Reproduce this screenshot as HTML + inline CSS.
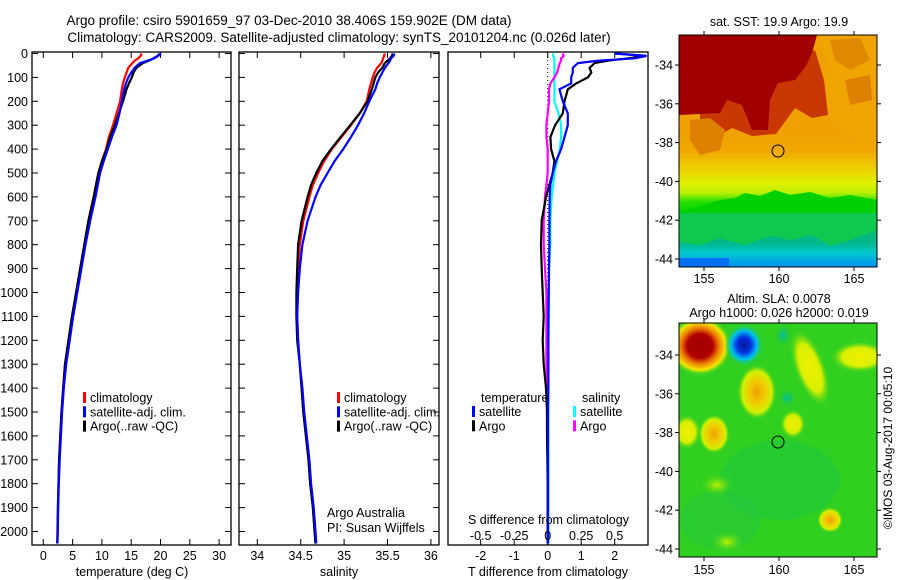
<!DOCTYPE html>
<html><head><meta charset="utf-8"><style>
html,body{margin:0;padding:0;background:#fff;}
svg{display:block;font-family:"Liberation Sans",sans-serif;}
text{fill:#000;}
</style></head><body>
<svg id="chart" width="900" height="580" viewBox="0 0 900 580" xmlns="http://www.w3.org/2000/svg">
<defs>
<linearGradient id="sstg" x1="0" y1="35" x2="0" y2="267" gradientUnits="userSpaceOnUse">
<stop offset="0.40" stop-color="#f0a000"/><stop offset="0.50" stop-color="#f0a800"/>
<stop offset="0.56" stop-color="#f0c800"/><stop offset="0.64" stop-color="#e0f000"/>
<stop offset="0.68" stop-color="#b8f000"/><stop offset="0.72" stop-color="#20e000"/>
<stop offset="0.78" stop-color="#00d000"/><stop offset="0.84" stop-color="#00b870"/>
<stop offset="0.90" stop-color="#00b890"/><stop offset="0.94" stop-color="#00c8d0"/>
<stop offset="1" stop-color="#0090f0"/></linearGradient>
<radialGradient id="gRed"><stop offset="0" stop-color="#a00000"/><stop offset="0.4" stop-color="#b00000"/><stop offset="0.6" stop-color="#f08000"/><stop offset="0.8" stop-color="#f0e800"/><stop offset="1" stop-color="#30d020" stop-opacity="0"/></radialGradient>
<radialGradient id="gBlue"><stop offset="0" stop-color="#001890"/><stop offset="0.35" stop-color="#0030e0"/><stop offset="0.65" stop-color="#00c0f0"/><stop offset="1" stop-color="#30d020" stop-opacity="0"/></radialGradient>
<radialGradient id="gOr"><stop offset="0" stop-color="#f0a000"/><stop offset="0.45" stop-color="#f0d000"/><stop offset="0.75" stop-color="#d0f000"/><stop offset="1" stop-color="#30d020" stop-opacity="0"/></radialGradient>
<radialGradient id="gYel"><stop offset="0" stop-color="#f0f000"/><stop offset="0.6" stop-color="#d8f000"/><stop offset="1" stop-color="#30d020" stop-opacity="0"/></radialGradient>
<radialGradient id="gYG"><stop offset="0" stop-color="#c0f000"/><stop offset="1" stop-color="#30d020" stop-opacity="0"/></radialGradient>
<radialGradient id="gTeal"><stop offset="0" stop-color="#00c0a0"/><stop offset="1" stop-color="#20c040" stop-opacity="0"/></radialGradient>
<clipPath id="clipM1"><rect x="679" y="35" width="198" height="232"/></clipPath>
<clipPath id="clipM2"><rect x="679" y="323" width="198" height="234"/></clipPath>
<clipPath id="clipP1"><rect x="32" y="52" width="199" height="493"/></clipPath>
<clipPath id="clipP2"><rect x="239" y="52" width="200" height="493"/></clipPath>
<clipPath id="clipP3"><rect x="448" y="52" width="200" height="493"/></clipPath>
</defs>

<text x="289" y="25" font-size="13.5" text-anchor="middle">Argo profile: csiro 5901659_97 03-Dec-2010 38.406S 159.902E (DM data)</text>
<text x="339" y="42" font-size="13.5" text-anchor="middle">Climatology: CARS2009. Satellite-adjusted climatology: synTS_20101204.nc (0.026d later)</text>

<g id="p1"></g>
<g id="p2"></g>
<g id="p3"></g>

<!-- SST map -->
<g clip-path="url(#clipM1)">
<rect x="679" y="35" width="198" height="232" fill="url(#sstg)"/>
<polygon fill="#f0a400" points="817,35 877,35 877,140 840,135 825,110 828,70"/>
<polygon fill="#e08800" points="830,40 860,38 870,60 850,70 835,60"/>
<polygon fill="#e08000" points="845,80 870,75 872,100 850,105"/>
<polygon fill="#c83800" points="700,110 720,95 745,80 770,65 800,58 815,50 824,80 828,115 812,118 795,108 776,134 752,136 732,128 715,138 700,140"/>
<polygon fill="#e08000" points="690,120 710,118 725,130 720,150 700,155 690,140"/>
<polygon fill="#a00000" points="679,35 817,35 812,53 806,66 795,80 778,83 770,100 768,130 752,130 742,105 727,100 720,113 679,115"/>
<polygon fill="#00d000" points="679,212 700,206 720,200 735,198 745,193 760,196 775,190 790,195 810,192 830,198 850,195 877,200 877,215 679,215"/>
<polygon fill="#10c850" points="679,213 877,213 877,230 850,240 830,246 812,235 790,240 770,236 745,245 720,238 700,245 679,242"/>
<rect x="679" y="258" width="50" height="9" fill="#0070f0"/>
<circle cx="778" cy="151" r="6" fill="none" stroke="#000" stroke-width="1"/>
</g>
<rect x="679" y="35" width="198" height="232" fill="none" stroke="#000" stroke-width="1"/>
<text x="779" y="26" font-size="12.5" text-anchor="middle">sat. SST: 19.9  Argo: 19.9</text>

<!-- SLA map -->
<g clip-path="url(#clipM2)">
<rect x="679" y="323" width="198" height="234" fill="#30d020"/>
<ellipse cx="780" cy="480" rx="60" ry="40" fill="#20c840" opacity="0.6"/>
<ellipse cx="720" cy="520" rx="40" ry="30" fill="#20c840" opacity="0.5"/>
<ellipse cx="700" cy="346" rx="32" ry="30" fill="url(#gRed)"/>
<ellipse cx="744" cy="345" rx="20" ry="22" fill="url(#gBlue)"/>
<ellipse cx="757" cy="392" rx="20" ry="28" fill="url(#gOr)"/>
<ellipse cx="810" cy="368" rx="16" ry="42" transform="rotate(-20 810 368)" fill="url(#gYel)"/>
<ellipse cx="860" cy="357" rx="30" ry="16" fill="url(#gYel)"/>
<ellipse cx="687" cy="432" rx="14" ry="18" fill="url(#gYel)"/>
<ellipse cx="714" cy="434" rx="16" ry="20" fill="url(#gOr)"/>
<ellipse cx="793" cy="424" rx="13" ry="15" fill="url(#gYel)"/>
<ellipse cx="830" cy="520" rx="13" ry="13" fill="url(#gOr)"/>
<ellipse cx="717" cy="485" rx="18" ry="12" fill="url(#gYG)"/>
<ellipse cx="727" cy="542" rx="18" ry="12" fill="url(#gYG)"/>
<ellipse cx="787" cy="398" rx="9" ry="9" fill="url(#gTeal)"/>
<ellipse cx="783" cy="335" rx="8" ry="12" fill="url(#gTeal)"/>
<circle cx="778" cy="442" r="6" fill="none" stroke="#000" stroke-width="1"/>
</g>
<rect x="679" y="323" width="198" height="234" fill="none" stroke="#000" stroke-width="1"/>
<text x="779" y="303" font-size="12.5" text-anchor="middle">Altim. SLA: 0.0078</text>
<text x="779" y="317" font-size="12.5" text-anchor="middle">Argo h1000: 0.026  h2000: 0.019</text>
<text transform="translate(892,448) rotate(-90)" font-size="12" text-anchor="middle">©IMOS 03-Aug-2017 00:05:10</text>
<g id="maptk"></g>

<script>
const depths=[0,10,20,30,40,60,80,100,125,150,200,250,300,350,400,450,500,550,600,700,800,900,1000,1100,1200,1300,1400,1500,1600,1700,1800,1900,2000,2050];
const tArgo=[19.9,19.5,18.8,18.0,17.0,15.9,15.4,15.1,14.6,14.2,13.6,12.9,12.2,11.4,10.8,10.0,9.4,9.0,8.6,7.7,7.0,6.3,5.6,4.9,4.3,3.7,3.4,3.1,2.9,2.7,2.6,2.5,2.45,2.4];
const tClim=[16.8,16.6,16.2,15.6,15.2,14.5,14.2,13.9,13.6,13.4,13.1,12.5,11.9,11.2,10.7,10.0,9.4,9.0,8.6,7.7,7.0,6.3,5.6,4.9,4.3,3.7,3.4,3.1,2.9,2.7,2.6,2.5,2.4,2.35];
const tSat=[20.1,19.6,19.0,17.8,16.5,15.6,15.0,14.5,14.1,13.8,13.4,13.0,12.5,11.7,11.0,10.3,9.7,9.3,8.9,8.0,7.2,6.5,5.8,5.1,4.5,3.9,3.5,3.2,3.0,2.8,2.65,2.55,2.45,2.4];
const sArgo=[35.56,35.55,35.53,35.50,35.47,35.44,35.39,35.36,35.34,35.32,35.27,35.18,35.07,34.96,34.85,34.75,34.68,34.62,34.58,34.51,34.47,34.46,34.45,34.45,34.46,34.49,34.51,34.53,34.56,34.59,34.61,34.64,34.66,34.67];
const sClim=[35.47,35.46,35.45,35.44,35.43,35.38,35.35,35.33,35.31,35.29,35.26,35.18,35.08,34.97,34.86,34.77,34.70,34.64,34.60,34.53,34.49,34.47,34.46,34.46,34.47,34.49,34.51,34.53,34.56,34.59,34.61,34.64,34.66,34.67];
const sSat=[35.58,35.57,35.54,35.53,35.51,35.47,35.44,35.41,35.38,35.36,35.29,35.23,35.16,35.08,34.99,34.89,34.81,34.73,34.67,34.58,34.52,34.49,34.47,34.46,34.47,34.49,34.52,34.54,34.57,34.60,34.62,34.65,34.67,34.68];
const dTSat=[2.0,2.95,2.6,1.5,0.9,0.75,0.75,0.7,0.7,0.35,0.45,0.6,0.6,0.5,0.4,0.25,0.15,0.08,0.06,0.05,0.05,0.04,0.03,0.02,0.02,0.02,0.02,0.01,0.01,0.01,0.01,0.01,0.01,0.01];
const dTArgo=[2.0,2.95,2.4,1.8,1.4,1.25,1.3,1.2,0.85,0.6,0.5,0.45,0.22,0.08,0.1,0.2,0.15,0.05,-0.05,-0.18,-0.2,-0.18,-0.15,-0.12,-0.15,-0.12,-0.05,-0.02,-0.02,-0.01,0,0,0,0];
const dSArgo=[0.11,0.12,0.1,0.1,0.09,0.08,0.07,0.05,0.02,0.01,0.01,0,-0.01,-0.01,0,0,0,-0.01,-0.02,-0.03,-0.03,-0.02,-0.01,-0.01,-0.01,-0.01,0,0,0,0,0,0,0,0];
const dSSat=[0.04,0.04,0.05,0.05,0.05,0.05,0.05,0.05,0.05,0.05,0.05,0.08,0.1,0.1,0.09,0.07,0.05,0.04,0.03,0.02,0.02,0.01,0.01,0.01,0.005,0.005,0.005,0.005,0.005,0.005,0.005,0.005,0.005,0.005];
const depthTicks=[0,100,200,300,400,500,600,700,800,900,1000,1100,1200,1300,1400,1500,1600,1700,1800,1900,2000];
const tTicks=[0,5,10,15,20,25,30];
const sTicks=[34,34.5,35,35.5,36];
const dTTicks=[-2,-1,0,1,2];
const dSTicks=[-0.5,-0.25,0,0.25,0.5];
const dSTickLabels=["-0.5","-0.25","0","0.25","0.5"];
const lonTicks=[155,160,165];
const latTicks=[-34,-36,-38,-40,-42,-44];

const NS='http://www.w3.org/2000/svg';
const yD=d=>53.5+0.239*d;
const xT=t=>43.3+5.86*t;
const xS=s=>257.3+86.8*(s-34);
const xDT=v=>547.7+33.5*v;
const xDS=v=>547.7+134*v;
const xLon=l=>779+15*(l-160);
const yLat1=l=>65+19.4*(-34-l);
const yLat2=l=>355+19.4*(-34-l);

function mk(tag,attrs,parent){const e=document.createElementNS(NS,tag);for(const k in attrs)e.setAttribute(k,attrs[k]);parent.appendChild(e);return e;}
function txt(parent,x,y,s,anchor,size){const t=mk('text',{x:x,y:y,'font-size':size||12.5,'text-anchor':anchor||'start'},parent);t.textContent=s;return t;}
function line(parent,xf,vals,color,name,clip){
  const pts=vals.map((v,i)=>xf(v).toFixed(1)+','+yD(depths[i]).toFixed(1)).join(' ');
  const p=mk('polyline',{points:pts,fill:'none',stroke:color,'stroke-width':2.2,'clip-path':'url(#'+clip+')'},parent);
  
  
}
function frame(g,x0,x1,name,yTicksIn){
  const r=mk('rect',{x:x0,y:52,width:x1-x0,height:493,fill:'none',stroke:'#000','stroke-width':1.3},g);
  
  
  if(yTicksIn){depthTicks.forEach(d=>{mk('line',{x1:x0,x2:x0+6,y1:yD(d),y2:yD(d),stroke:'#000'},g);mk('line',{x1:x1-6,x2:x1,y1:yD(d),y2:yD(d),stroke:'#000'},g);});}
}
function legend(g,x,y,items){
  items.forEach((it,i)=>{
    const b=mk('rect',{x:x,y:y+i*14.3-10,width:3,height:11,fill:it[1]},g);
    
    
    const t=txt(g,x+7,y+i*14.3,it[0]);
    
    
  });
}

// Panel 1
const p1=document.getElementById('p1');
frame(p1,32,231,'temperature-plot-frame',true);
depthTicks.forEach(d=>{const t=txt(p1,28,yD(d)+4.5,String(d),'end');});
tTicks.forEach(v=>{mk('line',{x1:xT(v),x2:xT(v),y1:52,y2:58,stroke:'#000'},p1);mk('line',{x1:xT(v),x2:xT(v),y1:539,y2:545,stroke:'#000'},p1);const t=txt(p1,xT(v),560,String(v),'middle');});
line(p1,xT,tClim,'#ff0000','temperature-climatology-line','clipP1');
line(p1,xT,tArgo,'#000000','temperature-argo-line','clipP1');
line(p1,xT,tSat,'#0000ff','temperature-satellite-line','clipP1');
legend(p1,83,402,[['climatology','#ff0000'],['satellite-adj. clim.','#0000ff'],['Argo(..raw -QC)','#000000']]);
const xt1=txt(p1,132,576,'temperature (deg C)','middle');

// Panel 2
const p2=document.getElementById('p2');
frame(p2,239,439,'salinity-plot-frame',true);
sTicks.forEach(v=>{mk('line',{x1:xS(v),x2:xS(v),y1:52,y2:58,stroke:'#000'},p2);mk('line',{x1:xS(v),x2:xS(v),y1:539,y2:545,stroke:'#000'},p2);const t=txt(p2,xS(v),560,String(v),'middle');});
line(p2,xS,sClim,'#ff0000','salinity-climatology-line','clipP2');
line(p2,xS,sArgo,'#000000','salinity-argo-line','clipP2');
line(p2,xS,sSat,'#0000ff','salinity-satellite-line','clipP2');
legend(p2,337,402,[['climatology','#ff0000'],['satellite-adj. clim.','#0000ff'],['Argo(..raw -QC)','#000000']]);
const c1=txt(p2,327,517,'Argo Australia');
const c2=txt(p2,327,532,'PI: Susan Wijffels');
const xt2=txt(p2,339,576,'salinity','middle');

// Panel 3
const p3=document.getElementById('p3');
frame(p3,448,648,'difference-plot-frame',false);
mk('line',{x1:xDT(0),x2:xDT(0),y1:52,y2:545,stroke:'#000','stroke-dasharray':'1,3'},p3);
dTTicks.forEach(v=>{mk('line',{x1:xDT(v),x2:xDT(v),y1:52,y2:58,stroke:'#000'},p3);mk('line',{x1:xDT(v),x2:xDT(v),y1:539,y2:545,stroke:'#000'},p3);const t=txt(p3,xDT(v),560,String(v),'middle');});
line(p3,xDS,dSSat,'#00ffff','s-diff-satellite-line','clipP3');
line(p3,xDS,dSArgo,'#ff00ff','s-diff-argo-line','clipP3');
line(p3,xDT,dTArgo,'#000000','t-diff-argo-line','clipP3');
line(p3,xDT,dTSat,'#0000ff','t-diff-satellite-line','clipP3');
dSTicks.forEach((v,i)=>{const t=txt(p3,xDS(v),540,dSTickLabels[i],'middle');});
const sd=txt(p3,468,524,'S difference from climatology');
const lt=txt(p3,481,402,'temperature');
const ls=txt(p3,582,402,'salinity');
legend(p3,472,416,[['satellite','#0000ff'],['Argo','#000000']]);
legend(p3,573,416,[['satellite','#00ffff'],['Argo','#ff00ff']]);
const xt3=txt(p3,548,576,'T difference from climatology','middle');

// Map ticks
const mt=document.getElementById('maptk');
[[yLat1,35,267,283],[yLat2,323,557,574]].forEach(m=>{
  const [yl,top,bot,lab]=m;
  lonTicks.forEach(l=>{mk('line',{x1:xLon(l),x2:xLon(l),y1:top-4,y2:top,stroke:'#000'},mt);mk('line',{x1:xLon(l),x2:xLon(l),y1:bot,y2:bot+4,stroke:'#000'},mt);const t=txt(mt,xLon(l),lab,String(l),'middle');});
  latTicks.forEach(l=>{mk('line',{x1:675,x2:679,y1:yl(l),y2:yl(l),stroke:'#000'},mt);mk('line',{x1:877,x2:881,y1:yl(l),y2:yl(l),stroke:'#000'},mt);const t=txt(mt,673,yl(l)+4.5,String(l),'end');});
});
</script>
</svg>
</body></html>
